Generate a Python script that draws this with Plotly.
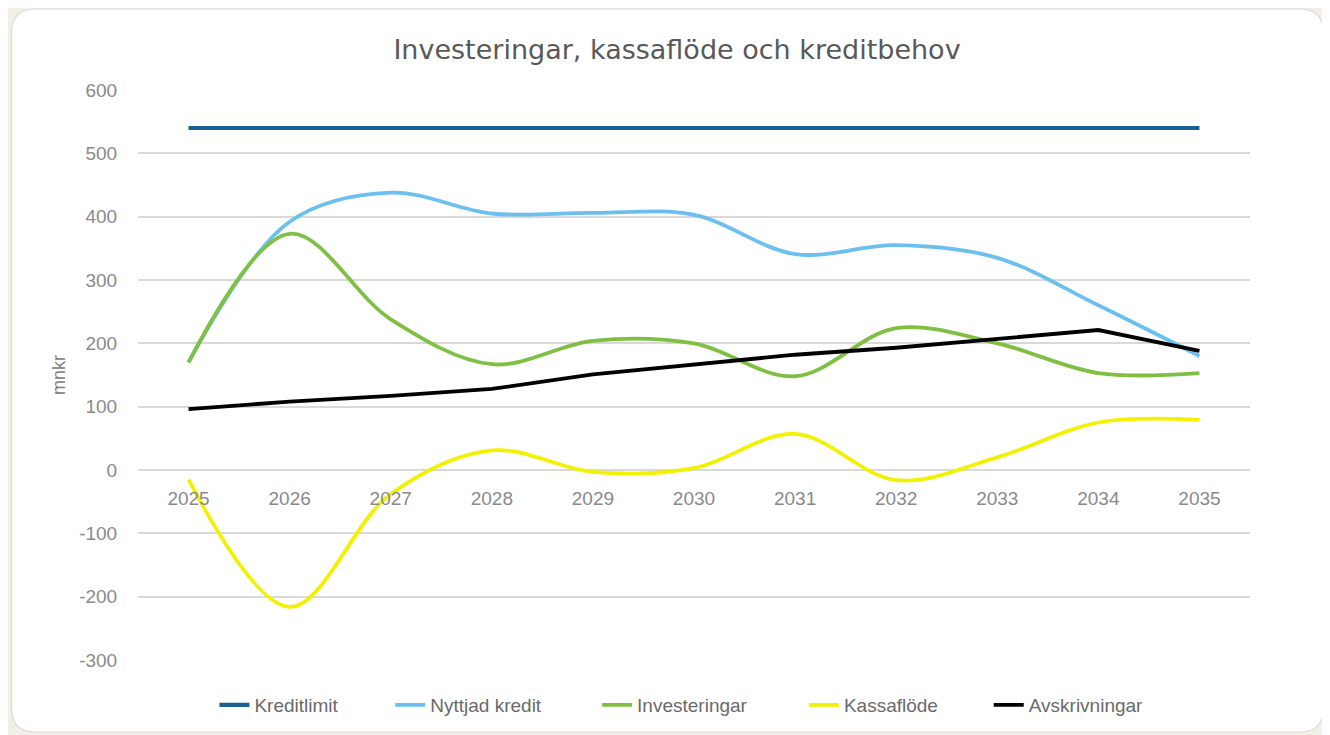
import plotly.graph_objects as go

years = [2025, 2026, 2027, 2028, 2029, 2030, 2031, 2032, 2033, 2034, 2035]
kreditlimit = [540, 540, 540, 540, 540, 540, 540, 540, 540, 540, 540]
nyttjad_kredit = [170, 392, 438, 405, 406, 403, 341, 355, 335, 260, 180]
investeringar = [170, 373, 238, 167, 204, 200, 148, 224, 200, 153, 153]
kassaflode = [-15, -216, -38, 31, -3, 3, 57, -16, 20, 75, 79]
avskrivningar = [96, 108, 117, 128, 151, 167, 182, 193, 207, 221, 188]

y_ticks = [-300, -200, -100, 0, 100, 200, 300, 400, 500, 600]
y_tick_text = ["-300", "-200", "-100", "0", "100", "200", "300", "400", "500", "600"]

series = [
    ("Kreditlimit", kreditlimit, "#1c5f95", "linear"),
    ("Nyttjad kredit", nyttjad_kredit, "#6cc0f0", "spline"),
    ("Investeringar", investeringar, "#7fc044", "spline"),
    ("Kassaflöde", kassaflode, "#f2f200", "spline"),
    ("Avskrivningar", avskrivningar, "#000000", "linear"),
]
legend_px = [205, 381, 588, 795, 980]  # legend entry starts (viewport px)

FONT = "Liberation Sans, Arial, sans-serif"

W, H = 1330, 735
OFF = 8  # page body margin
LV, TV = 137.5, 90.0          # plot area top-left in viewport
PW, PH = 1113, 570
L, T = LV - OFF, TV - OFF
R, B = W - L - PW, H - T - PH


def px(x):
    return (x - LV) / PW


def py(y):
    return (TV + PH - y) / PH


fig = go.Figure()
layout_legends = {}
for i, (name, vals, color, shape) in enumerate(series):
    key = "legend" if i == 0 else f"legend{i + 1}"
    fig.add_trace(go.Scatter(
        x=years, y=vals, name=name, mode="lines", legend=key,
        line=dict(color=color, width=3.8 if i else 4.2, shape=shape, smoothing=1.0),
    ))
    layout_legends[key] = dict(
        orientation="h", x=px(legend_px[i] + 9), xanchor="left",
        y=py(705), yanchor="middle",
        font=dict(size=19, color="#6a6a6a", family=FONT),
        bgcolor="rgba(0,0,0,0)", borderwidth=0,
    )

# rounded white card
x0, y0, x1, y1, rr = 11, 9, 1324, 732, 24
path = (
    f"M {px(x0+rr)},{py(y0)} L {px(x1-rr)},{py(y0)} "
    f"Q {px(x1)},{py(y0)} {px(x1)},{py(y0+rr)} "
    f"L {px(x1)},{py(y1-rr)} Q {px(x1)},{py(y1)} {px(x1-rr)},{py(y1)} "
    f"L {px(x0+rr)},{py(y1)} Q {px(x0)},{py(y1)} {px(x0)},{py(y1-rr)} "
    f"L {px(x0)},{py(y0+rr)} Q {px(x0)},{py(y0)} {px(x0+rr)},{py(y0)} Z"
)
fig.add_shape(type="path", path=path, xref="paper", yref="paper",
              fillcolor="white", line=dict(color="#dedbd5", width=1.2),
              layer="below")

fig.update_layout(
    width=W, height=H,
    margin=dict(l=L, r=R, t=T, b=B, pad=0),
    paper_bgcolor="#f2efe9",
    plot_bgcolor="rgba(0,0,0,0)",
    font=dict(family=FONT, color="#808080"),
    title=dict(text="Investeringar, kassaflöde och kreditbehov",
               x=(677 - OFF) / W, xanchor="center",
               y=1 - (50 - OFF) / H, yanchor="middle", yref="container",
               font=dict(size=27, color="#595959", family="DejaVu Sans, sans-serif")),
    showlegend=True,
    xaxis=dict(range=[2024.5, 2035.5], tickmode="array", tickvals=years,
               ticktext=[str(y) for y in years],
               showgrid=False, zeroline=False, showline=False,
               anchor="free", position=1 / 3,
               ticks="outside", ticklen=11, tickcolor="rgba(0,0,0,0)",
               tickfont=dict(size=19, color="#8a8a8a", family=FONT)),
    yaxis=dict(range=[-300, 600], tickmode="array", tickvals=y_ticks,
               ticktext=y_tick_text,
               showgrid=True, gridcolor="#d9d9d9", gridwidth=1.5,
               zeroline=False, showline=False,
               ticks="outside", ticklen=16, tickcolor="rgba(0,0,0,0)",
               tickfont=dict(size=19, color="#8a8a8a", family=FONT),
               title=dict(text="mnkr", standoff=8,
                          font=dict(size=18, color="#808080", family=FONT))),
    **layout_legends,
)

fig.write_html("out.html")
